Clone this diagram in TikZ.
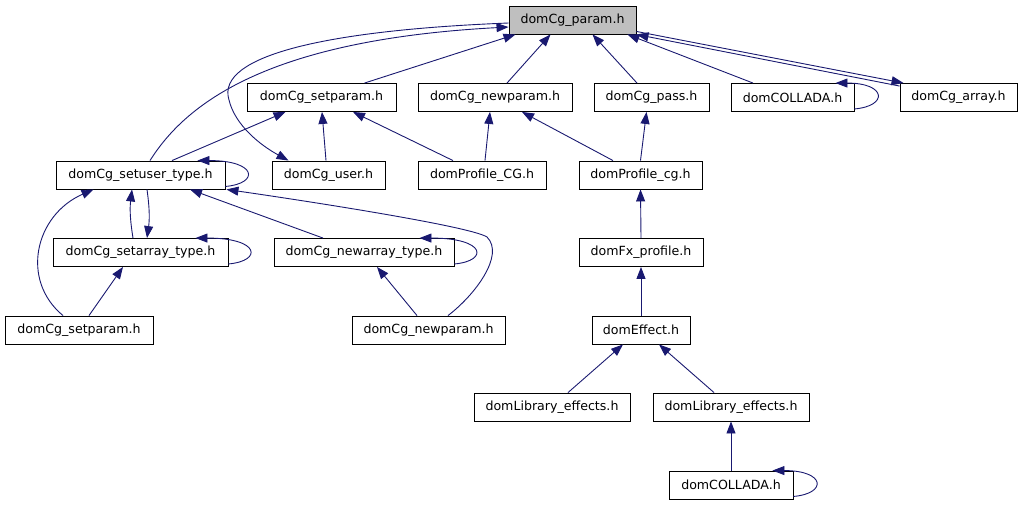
\documentclass[tikz,border=0pt]{standalone}
\usepackage{fontspec}
\setmainfont{DejaVu Sans}
\usepackage{xcolor}
\usepackage{tikz}
\usetikzlibrary{arrows.meta}
\definecolor{edgeblue}{RGB}{25,25,112}

\begin{document}
\begin{tikzpicture}[x=1pt, y=-1pt,
    file/.style={draw=black, line width=0.9pt, rectangle, minimum height=28pt,
        inner sep=0pt, font=\fontsize{12.6}{15}\selectfont},
    edge/.style={draw=edgeblue, line width=0.9pt, -{Triangle[length=12pt,width=9pt]}}
    ]
    \useasboundingbox (0,0) rectangle (1027,504);

    % 第一层
    \node[file, minimum width=127pt, fill=gray!50] (param) at (572.5,20) {domCg\_param.h};
    % 第二层
    \node[file, minimum width=149pt] (setparamA) at (321.5,97.5) {domCg\_setparam.h};
    \node[file, minimum width=154pt] (newparamA) at (495,97.5) {domCg\_newparam.h};
    \node[file, minimum width=115pt] (pass) at (651.5,97.5) {domCg\_pass.h};
    \node[file, minimum width=123pt] (colladaA) at (792.5,97.5) {domCOLLADA.h};
    \node[file, minimum width=117pt] (array) at (958.5,97.5) {domCg\_array.h};
    % 第三层
    \node[file, minimum width=169pt] (setusertype) at (140.5,175) {domCg\_setuser\_type.h};
    \node[file, minimum width=113pt] (user) at (328.5,175) {domCg\_user.h};
    \node[file, minimum width=128pt] (profileCG) at (482,175) {domProfile\_CG.h};
    \node[file, minimum width=123pt] (profilecg) at (640.5,175) {domProfile\_cg.h};
    % 第四层
    \node[file, minimum width=175pt] (setarraytype) at (140.5,252.5) {domCg\_setarray\_type.h};
    \node[file, minimum width=180pt] (newarraytype) at (364,252.5) {domCg\_newarray\_type.h};
    \node[file, minimum width=124pt] (fxprofile) at (641,252.5) {domFx\_profile.h};
    % 第五层
    \node[file, minimum width=148pt] (setparamB) at (79,330) {domCg\_setparam.h};
    \node[file, minimum width=153pt] (newparamB) at (428.5,330) {domCg\_newparam.h};
    \node[file, minimum width=98pt] (effect) at (641,330) {domEffect.h};
    % 第六层
    \node[file, minimum width=156pt] (libeffA) at (552,407) {domLibrary\_effects.h};
    \node[file, minimum width=156pt] (libeffB) at (731,407) {domLibrary\_effects.h};
    \node[file, minimum width=124pt] (colladaB) at (731,485) {domCOLLADA.h};

    % 指向 domCg_param.h
    \draw[edge] ([xshift=43pt]setparamA.north) -- ([xshift=-57pt]param.south);
    \draw[edge] ([xshift=12pt]newparamA.north) -- ([xshift=-22pt]param.south);
    \draw[edge] ([xshift=-14.5pt]pass.north) -- ([xshift=20pt]param.south);
    \draw[edge] ([xshift=-39.5pt]colladaA.north) -- ([xshift=-9pt]param.south east);
    \draw[edge] ([yshift=-3pt]array.north west) -- (param.south east);
    \draw[edge] ([yshift=3pt]param.south east) -- ([xshift=4pt]array.north west);
    \draw[edge] ([xshift=9.5pt]setusertype.north)
        .. controls (185,105) and (265,40) .. ([yshift=-7pt]param.west);
    \draw[edge] ([yshift=-3pt]param.west)
        .. controls (330,30) and (215,55) .. (229,100)
        .. controls (235,125) and (260,145) .. ([xshift=-40pt]user.north);

    % 第二层的入边
    \draw[edge] ([xshift=31.5pt]setusertype.north) -- ([xshift=-36pt]setparamA.south);
    \draw[edge] ([xshift=-2.5pt]user.north) -- ([xshift=0.5pt]setparamA.south);
    \draw[edge] ([xshift=-29pt]profileCG.north) -- ([xshift=31.5pt]setparamA.south);
    \draw[edge] ([xshift=3pt]profileCG.north) -- ([xshift=-5pt]newparamA.south);
    \draw[edge] ([xshift=-27.5pt]profilecg.north) -- ([xshift=27pt]newparamA.south);
    \draw[edge] (profilecg.north) -- ([xshift=-5pt]pass.south);
    \draw[edge] ([yshift=3pt]colladaA.south east)
        .. controls ([xshift=34pt,yshift=6pt]colladaA.south east) and ([xshift=32pt]colladaA.north east)
        .. ([xshift=-19pt]colladaA.north east);    % 自环

    % domCg_setuser_type.h 附近
    \draw[edge] ([yshift=3pt]setusertype.south east)
        .. controls ([xshift=34pt,yshift=6pt]setusertype.south east) and ([xshift=32pt]setusertype.north east)
        .. ([xshift=-28pt]setusertype.north east);    % 自环
    \draw[edge] ([xshift=-7.5pt]setarraytype.north) to[bend left=8] ([xshift=-8.5pt]setusertype.south);
    \draw[edge] ([xshift=6.5pt]setusertype.south) to[bend left=8] ([xshift=6.5pt]setarraytype.north);
    \draw[edge] ([yshift=3pt]setarraytype.south east)
        .. controls ([xshift=34pt,yshift=6pt]setarraytype.south east) and ([xshift=32pt]setarraytype.north east)
        .. ([xshift=-33pt]setarraytype.north east);    % 自环
    \draw[edge] ([xshift=-41pt]newarraytype.north) -- ([xshift=49.5pt]setusertype.south);
    \draw[edge] ([yshift=3pt]newarraytype.south east)
        .. controls ([xshift=34pt,yshift=6pt]newarraytype.south east) and ([xshift=32pt]newarraytype.north east)
        .. ([xshift=-35pt]newarraytype.north east);    % 自环
    \draw[edge] ([xshift=-16pt]setparamB.north)
        .. controls (20,280) and (35,215) .. ([xshift=-47pt]setusertype.south);
    \draw[edge] ([xshift=10pt]setparamB.north) -- ([xshift=-17.5pt]setarraytype.south);
    \draw[edge] ([xshift=-11.5pt]newparamB.north) -- ([xshift=13pt]newarraytype.south);
    \draw[edge] ([xshift=19.5pt]newparamB.north)
        .. controls (475,295) and (505,255) .. (487,237)
        .. controls (470,226) and (300,200) .. ([xshift=1pt]setusertype.south east);

    % 右侧一列
    \draw[edge] (fxprofile.north) -- (profilecg.south);
    \draw[edge] (effect.north) -- (fxprofile.south);
    \draw[edge] ([xshift=16pt]libeffA.north) -- ([xshift=-18pt]effect.south);
    \draw[edge] ([xshift=-17pt]libeffB.north) -- ([xshift=18pt]effect.south);
    \draw[edge] (colladaB.north) -- (libeffB.south);
    \draw[edge] ([yshift=3pt]colladaB.south east)
        .. controls ([xshift=34pt,yshift=6pt]colladaB.south east) and ([xshift=32pt]colladaB.north east)
        .. ([xshift=-21pt]colladaB.north east);    % 自环
\end{tikzpicture}
\end{document}
